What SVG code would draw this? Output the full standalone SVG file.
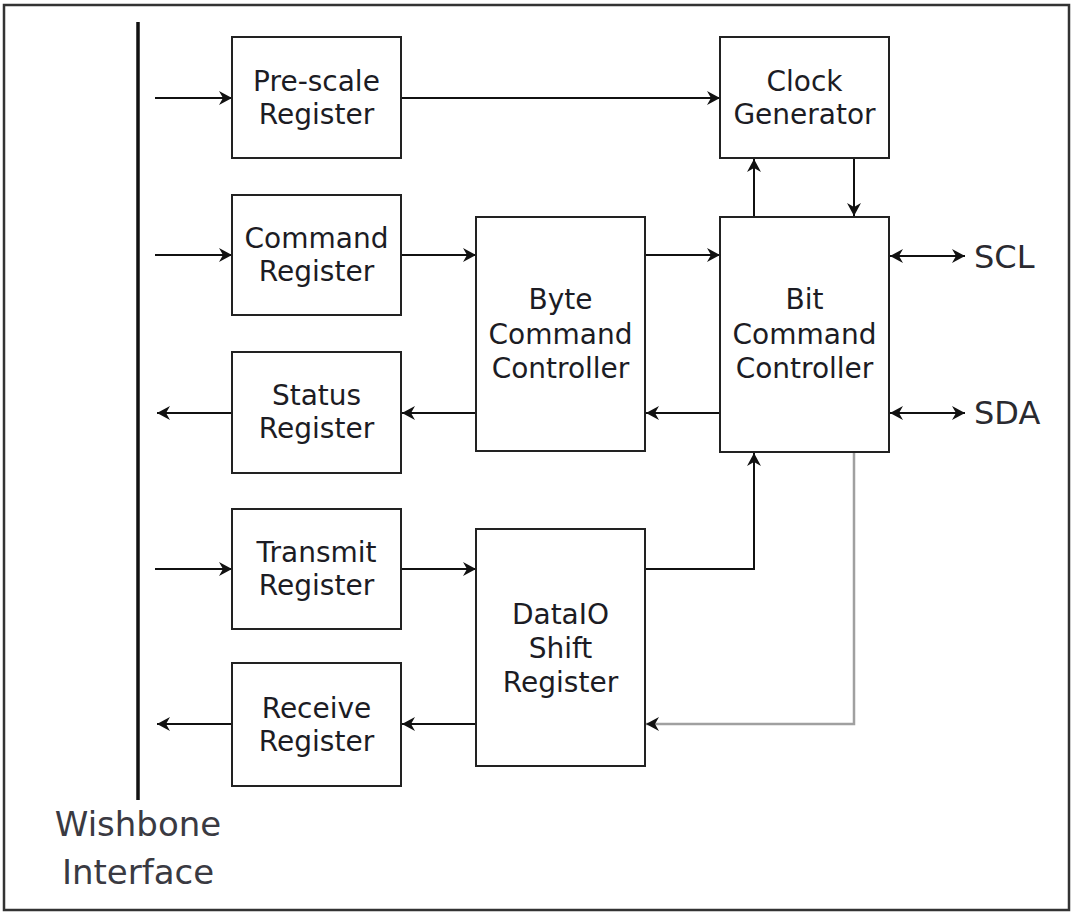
<svg xmlns="http://www.w3.org/2000/svg" width="1073" height="912" viewBox="0 0 1073 912">
<style>
.box{fill:#fff;stroke:#222;stroke-width:2}
.lbl{font-family:"DejaVu Sans","Open Sans",sans-serif;font-size:28px;fill:#1c1c24;text-anchor:middle}
.big{font-family:"DejaVu Sans","Open Sans",sans-serif;font-size:32px;fill:#2a2a30}
.wb{font-family:"DejaVu Sans","Open Sans",sans-serif;font-size:34px;fill:#3a3a42;text-anchor:middle}
.c{fill:none;stroke:#111;stroke-width:2}
.g{fill:none;stroke:#a0a0a0;stroke-width:2.5}
</style>
<defs>
<marker id="ah" markerUnits="userSpaceOnUse" markerWidth="16" markerHeight="16" refX="13" refY="7" orient="auto-start-reverse">
<path d="M0,0 L13,7 L0,14 L4,7 z" fill="#111"/>
</marker>
</defs>
<rect x="0" y="0" width="1073" height="912" fill="#fff"/>
<rect id="frame" x="4" y="5" width="1065" height="905" fill="none" stroke="#333" stroke-width="2.5"/>
<g id="wishbone">
<line x1="138" y1="22" x2="138" y2="800" stroke="#111" stroke-width="3.5"/>
<text class="wb" x="138" y="836">Wishbone</text>
<text class="wb" x="138" y="884">Interface</text>
</g>
<g id="connectors">
<line class="c" x1="155" y1="98" x2="232" y2="98" marker-end="url(#ah)"/>
<line class="c" x1="401" y1="98" x2="720" y2="98" marker-end="url(#ah)"/>
<line class="c" x1="155" y1="255" x2="232" y2="255" marker-end="url(#ah)"/>
<line class="c" x1="401" y1="255" x2="476" y2="255" marker-end="url(#ah)"/>
<line class="c" x1="645" y1="255" x2="720" y2="255" marker-end="url(#ah)"/>
<line class="c" x1="720" y1="413" x2="646" y2="413" marker-end="url(#ah)"/>
<line class="c" x1="476" y1="413" x2="402" y2="413" marker-end="url(#ah)"/>
<line class="c" x1="232" y1="413" x2="157" y2="413" marker-end="url(#ah)"/>
<line class="c" x1="155" y1="569" x2="232" y2="569" marker-end="url(#ah)"/>
<line class="c" x1="401" y1="569" x2="476" y2="569" marker-end="url(#ah)"/>
<polyline class="c" points="645,569 754,569 754,453" marker-end="url(#ah)"/>
<line class="c" x1="754" y1="217" x2="754" y2="159" marker-end="url(#ah)"/>
<line class="c" x1="854" y1="158" x2="854" y2="216" marker-end="url(#ah)"/>
<line class="c" x1="890" y1="256" x2="965" y2="256" marker-start="url(#ah)" marker-end="url(#ah)"/>
<line class="c" x1="890" y1="413" x2="965" y2="413" marker-start="url(#ah)" marker-end="url(#ah)"/>
<polyline class="g" points="854,452 854,724 646,724" marker-end="url(#ah)"/>
<line class="c" x1="476" y1="724" x2="402" y2="724" marker-end="url(#ah)"/>
<line class="c" x1="232" y1="724" x2="157" y2="724" marker-end="url(#ah)"/>
</g>
<g id="prescale">
<rect class="box" x="232" y="37" width="169" height="121"/>
<text class="lbl" x="316.5" y="91">Pre-scale</text>
<text class="lbl" x="316.5" y="124">Register</text>
</g>
<g id="clockgen">
<rect class="box" x="720" y="37" width="169" height="121"/>
<text class="lbl" x="804.5" y="91">Clock</text>
<text class="lbl" x="804.5" y="124">Generator</text>
</g>
<g id="command">
<rect class="box" x="232" y="195" width="169" height="120"/>
<text class="lbl" x="316.5" y="248">Command</text>
<text class="lbl" x="316.5" y="281">Register</text>
</g>
<g id="status">
<rect class="box" x="232" y="352" width="169" height="121"/>
<text class="lbl" x="316.5" y="405">Status</text>
<text class="lbl" x="316.5" y="438">Register</text>
</g>
<g id="transmit">
<rect class="box" x="232" y="509" width="169" height="120"/>
<text class="lbl" x="316.5" y="562">Transmit</text>
<text class="lbl" x="316.5" y="595">Register</text>
</g>
<g id="receive">
<rect class="box" x="232" y="663" width="169" height="123"/>
<text class="lbl" x="316.5" y="718">Receive</text>
<text class="lbl" x="316.5" y="751">Register</text>
</g>
<g id="bytecmd">
<rect class="box" x="476" y="217" width="169" height="234"/>
<text class="lbl" x="560.5" y="309">Byte</text>
<text class="lbl" x="560.5" y="344">Command</text>
<text class="lbl" x="560.5" y="378">Controller</text>
</g>
<g id="bitcmd">
<rect class="box" x="720" y="217" width="169" height="235"/>
<text class="lbl" x="804.5" y="309">Bit</text>
<text class="lbl" x="804.5" y="344">Command</text>
<text class="lbl" x="804.5" y="378">Controller</text>
</g>
<g id="dataio">
<rect class="box" x="476" y="529" width="169" height="237"/>
<text class="lbl" x="560.5" y="624">DataIO</text>
<text class="lbl" x="560.5" y="658">Shift</text>
<text class="lbl" x="560.5" y="692">Register</text>
</g>
<g id="scl"><text class="big" x="974" y="268">SCL</text></g>
<g id="sda"><text class="big" x="974" y="424">SDA</text></g>
</svg>
